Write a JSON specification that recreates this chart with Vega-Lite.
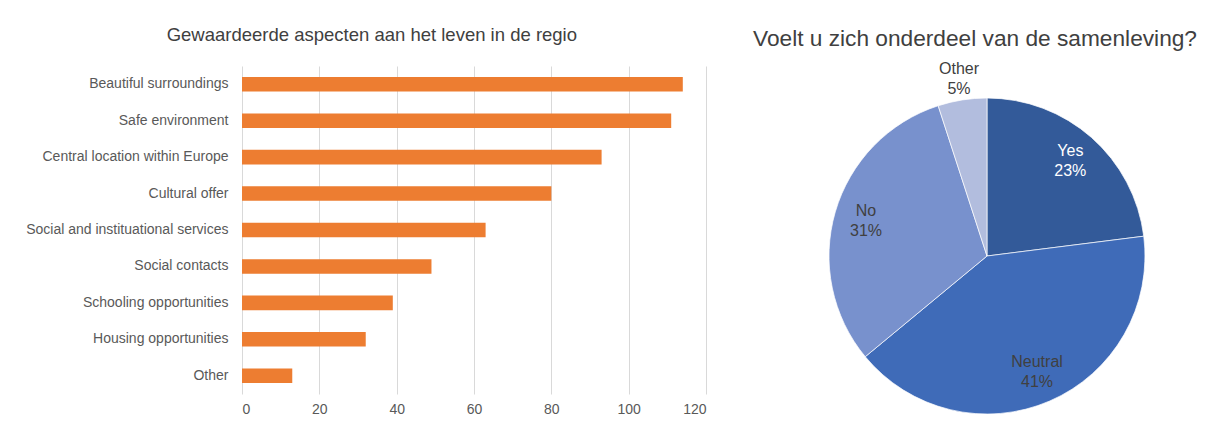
{
  "$schema": "https://vega.github.io/schema/vega-lite/v6.json",
  "background": "white",
  "padding": {"left": 25, "top": 25, "right": 0, "bottom": 0},
  "bounds": "flush",
  "spacing": 30,
  "config": {
    "view": {"stroke": null},
    "font": "Liberation Sans",
    "title": {"font": "Liberation Sans", "fontWeight": "normal", "color": "#404040"}
  },
  "hconcat": [
    {
      "width": 464,
      "height": 328,
      "title": {"text": "Gewaardeerde aspecten aan het leven in de regio", "fontSize": 18.5, "anchor": "middle", "frame": "bounds", "offset": 22, "dx": 6},
      "data": {"values": [
        {"aspect": "Beautiful surroundings", "count": 114},
        {"aspect": "Safe environment", "count": 111},
        {"aspect": "Central location  within Europe", "count": 93},
        {"aspect": "Cultural offer", "count": 80},
        {"aspect": "Social and instituational services", "count": 63},
        {"aspect": "Social contacts", "count": 49},
        {"aspect": "Schooling opportunities", "count": 39},
        {"aspect": "Housing opportunities", "count": 32},
        {"aspect": "Other", "count": 13}
      ]},
      "mark": {"type": "bar", "color": "#ED7D31"},
      "encoding": {
        "y": {
          "field": "aspect", "type": "nominal", "sort": null, "title": null,
          "scale": {"paddingInner": 0.6, "paddingOuter": 0.3},
          "axis": {"domain": false, "ticks": false, "labelPadding": 14, "labelFontSize": 14, "labelColor": "#595959", "labelLimit": 300}
        },
        "x": {
          "field": "count", "type": "quantitative", "title": null,
          "scale": {"domain": [0, 120], "nice": false},
          "axis": {"values": [0, 20, 40, 60, 80, 100, 120], "domain": false, "ticks": false, "grid": true, "gridColor": "#D9D9D9", "labelPadding": 8, "labelFontSize": 14, "labelColor": "#595959"}
        }
      }
    },
    {
      "width": 502,
      "height": 380,
      "title": {"text": "Voelt u zich onderdeel van de samenleving?", "fontSize": 22.7, "anchor": "middle", "offset": 11, "dx": -12},
      "data": {"values": [
        {"answer": "Yes", "share": 0.23, "rank": 1},
        {"answer": "Neutral", "share": 0.41, "rank": 2},
        {"answer": "No", "share": 0.31, "rank": 3},
        {"answer": "Other", "share": 0.05, "rank": 4}
      ]},
      "encoding": {
        "theta": {"field": "share", "type": "quantitative", "stack": true},
        "order": {"field": "rank", "type": "quantitative"}
      },
      "layer": [
        {
          "mark": {"type": "arc", "outerRadius": 158, "stroke": "white", "strokeWidth": 0.7},
          "encoding": {
            "color": {
              "field": "answer", "type": "nominal", "legend": null,
              "scale": {"domain": ["Yes", "Neutral", "No", "Other"], "range": ["#335A99", "#3F6BB8", "#7891CD", "#B2BDDE"]}
            }
          }
        },
        {
          "mark": {"type": "text", "radius": 126, "dy": -10, "fontSize": 16},
          "encoding": {
            "text": {"condition": {"test": "datum.answer == 'Other'", "value": ""}, "field": "answer", "type": "nominal"},
            "color": {"condition": {"test": "datum.answer == 'Yes'", "value": "white"}, "value": "#404040"}
          }
        },
        {
          "mark": {"type": "text", "radius": 126, "dy": 10, "fontSize": 16},
          "encoding": {
            "text": {"condition": {"test": "datum.answer == 'Other'", "value": ""}, "field": "share", "type": "quantitative", "format": ".0%"},
            "color": {"condition": {"test": "datum.answer == 'Yes'", "value": "white"}, "value": "#404040"}
          }
        },
        {
          "mark": {"type": "text", "radius": 179, "dy": -10, "fontSize": 16, "color": "#404040"},
          "encoding": {"text": {"condition": {"test": "datum.answer != 'Other'", "value": ""}, "field": "answer", "type": "nominal"}}
        },
        {
          "mark": {"type": "text", "radius": 179, "dy": 10, "fontSize": 16, "color": "#404040"},
          "encoding": {"text": {"condition": {"test": "datum.answer != 'Other'", "value": ""}, "field": "share", "type": "quantitative", "format": ".0%"}}
        }
      ]
    }
  ]
}
